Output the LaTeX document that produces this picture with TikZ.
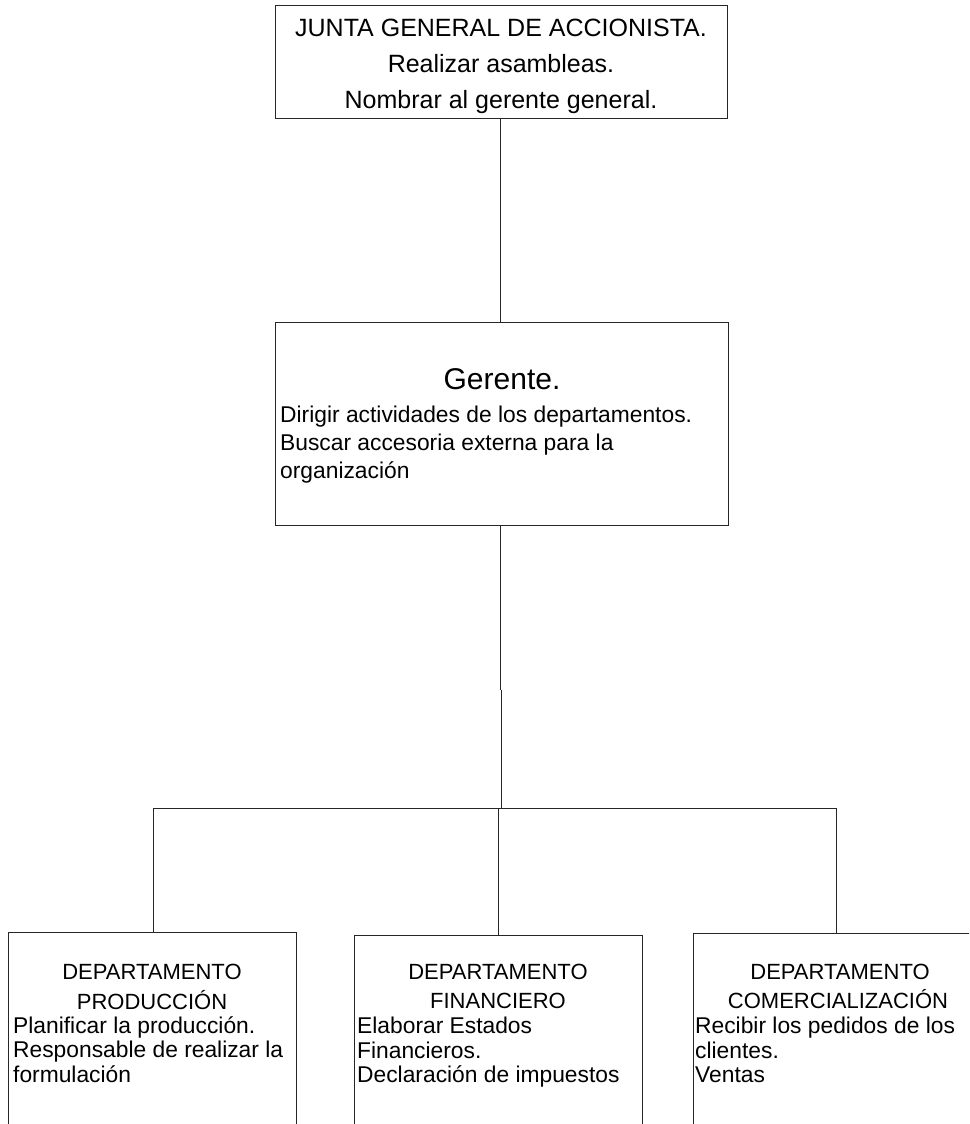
\documentclass[tikz,border=0pt]{standalone}
\usepackage{fontspec}
\setmainfont{Liberation Sans}
\begin{document}
\begin{tikzpicture}[x=1pt,y=-1pt,
  box/.style={draw=black!85, line width=1.1pt, inner sep=0pt, anchor=north west},
  topln/.style={anchor=base, inner sep=0pt, font=\fontsize{25}{29}\selectfont},
  ln/.style={anchor=base, inner sep=0pt, font=\fontsize{22}{26}\selectfont},
  lnl/.style={anchor=base west, inner sep=0pt, font=\fontsize{22.8}{26}\selectfont},
  big/.style={anchor=base, inner sep=0pt, font=\fontsize{30}{34}\selectfont},
  conn/.style={draw=black!85, line width=0.9pt}]
\clip (0,0) rectangle (969,1124);
\fill[white] (0,0) rectangle (969,1124);
% boxes
\node[box, minimum width=452pt, minimum height=113pt] (junta) at (275,5) {};
\node[box, minimum width=453pt, minimum height=203pt] (gerente) at (275,322) {};
\node[box, minimum width=288pt, minimum height=300pt] (prod) at (8,932) {};
\node[box, minimum width=288pt, minimum height=300pt] (fin) at (354,935) {};
\node[box, minimum width=400pt, minimum height=300pt] (com) at (693,933) {};
% texts
\node[topln] (j1) at (501,37) {JUNTA GENERAL DE ACCIONISTA.};
\node[topln] (j2) at (501,73) {Realizar asambleas.};
\node[topln] (j3) at (501,108) {Nombrar al gerente general.};
\node[big] (g0) at (502,389) {Gerente.};
\node[lnl] (g1) at (280,422) {Dirigir actividades de los departamentos.};
\node[lnl] (g2) at (280,450) {Buscar accesoria externa para la};
\node[lnl] (g3) at (280,478) {organización};
\node[ln] (p0) at (152,979) {DEPARTAMENTO};
\node[ln] (p1) at (152,1009) {PRODUCCIÓN};
\node[lnl] (p2) at (13,1033) {Planificar la producción.};
\node[lnl] (p3) at (13,1057) {Responsable de realizar la};
\node[lnl] (p4) at (13,1082) {formulación};
\node[ln] (f0) at (498,979) {DEPARTAMENTO};
\node[ln] (f1) at (498,1008) {FINANCIERO};
\node[lnl] (f2) at (357,1033) {Elaborar Estados};
\node[lnl] (f3) at (357,1058) {Financieros.};
\node[lnl] (f4) at (357,1082) {Declaración de impuestos};
\node[ln] (c0) at (840,979) {DEPARTAMENTO};
\node[ln] (c1) at (838,1008) {COMERCIALIZACIÓN};
\node[lnl] (c2) at (695,1033) {Recibir los pedidos de los};
\node[lnl] (c3) at (695,1058) {clientes.};
\node[lnl] (c4) at (695,1082) {Ventas};
% connectors
\coordinate (ja) at (500,690);
\coordinate (jb) at (501,690);
\coordinate (hL) at (153,808);
\coordinate (hM) at (498,808);
\coordinate (hR) at (836,808);
\draw[conn] (junta.south -| ja) -- (gerente.north -| ja);
\draw[conn] (gerente.south -| ja) -- (ja);
\draw[conn] (jb) -- (jb |- hL);
\draw[conn] (hL) -- (hR);
\draw[conn] (hL) -- (prod.north -| hL);
\draw[conn] (hM) -- (fin.north -| hM);
\draw[conn] (hR) -- (com.north -| hR);
\end{tikzpicture}
\end{document}
